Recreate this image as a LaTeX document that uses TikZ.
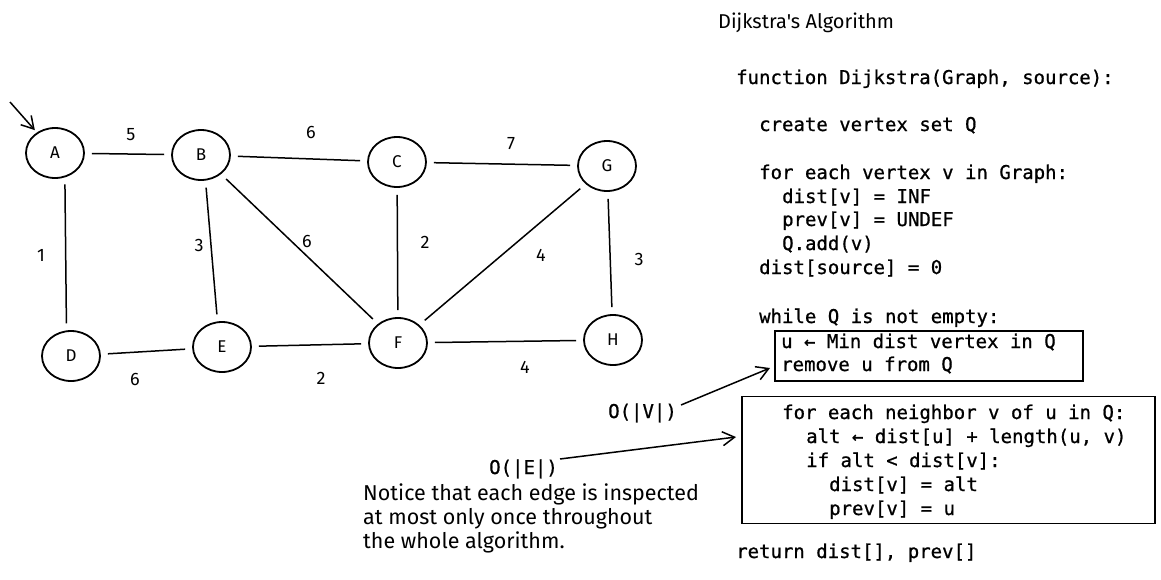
\documentclass[tikz,border=0pt]{standalone}
\usepackage{fontspec}
\setmainfont{Liberation Sans}
\newfontfamily\codefont[FakeBold=0.8]{DejaVu Sans Mono}
\newfontfamily\handfont{Fira Sans}
\usetikzlibrary{arrows.meta,shapes.geometric}
\begin{document}
\begin{tikzpicture}[x=1pt,y=-1pt,
  vert/.style={draw, ellipse, line width=1.8pt, minimum width=58pt, minimum height=50pt, inner sep=0pt, font=\handfont\fontsize{17}{20}\selectfont},
  edge/.style={line width=1.5pt, shorten >=7pt, shorten <=7pt},
  wt/.style={font=\handfont\fontsize{18}{20}\selectfont, inner sep=0pt},
  code/.style={font=\codefont\fontsize{19}{24}\selectfont, anchor=base west, inner sep=0pt},
  hand/.style={font=\handfont\fontsize{21.5}{24}\selectfont, anchor=base west, inner sep=0pt},
  arr/.style={line width=1.5pt, -{Straight Barb[length=12pt,width=14pt]}},
  codebox/.style={draw, line width=1.5pt, inner sep=0pt}
]
\useasboundingbox (0,0) rectangle (1161,579);
% vertices
\node[vert] (A) at (55,153) {A};
\node[vert] (B) at (201,155) {B};
\node[vert] (C) at (397,162) {C};
\node[vert] (G) at (607,166) {G};
\node[vert] (D) at (71,356) {D};
\node[vert] (E) at (222,347) {E};
\node[vert] (F) at (398,343) {F};
\node[vert] (H) at (613,340) {H};
% edges
\draw[edge] (A) -- (B);
\draw[edge] (A.-68) -- (D.100);
\draw[edge] (B) -- (C);
\draw[edge] (B.-80) -- (E.100);
\draw[edge] (B) -- (F);
\draw[edge] (C) -- (F);
\draw[edge] (C) -- (G);
\draw[edge] (G) -- (F);
\draw[edge] (G) -- (H);
\draw[edge] (F) -- (H);
\draw[edge] (D) -- (E);
\draw[edge] (E) -- (F);
% weights
\node[wt] (wAB) at (131,135) {5};
\node[wt] (wBC) at (311,132) {6};
\node[wt] (wCG) at (511,144) {7};
\node[wt] (wAD) at (41,255) {1};
\node[wt] (wBE) at (199,245) {3};
\node[wt] (wBF) at (307,241) {6};
\node[wt] (wCF) at (425,242) {2};
\node[wt] (wGF) at (541,255) {4};
\node[wt] (wGH) at (639,259) {3};
\node[wt] (wDE) at (135,379) {6};
\node[wt] (wEF) at (321,378) {2};
\node[wt] (wFH) at (525,367) {4};
% start arrow
\coordinate (start) at (10,102);
\draw[arr, shorten >=3pt] (start) -- (A);
% title
\node[hand, font=\handfont\fontsize{20}{22}\selectfont] (title) at (718,28) {Dijkstra's Algorithm};
% code
\node[code] (l1) at (736,84) {function Dijkstra(Graph, source):};
\node[code] (l2) at (759,131) {create vertex set Q};
\node[code] (l3) at (759,179) {for each vertex v in Graph:};
\node[code] (l4) at (782,203) {dist[v] = INF};
\node[code] (l5) at (782,226) {prev[v] = UNDEF};
\node[code] (l6) at (782,250) {Q.add(v)};
\node[code] (l7) at (759,274) {dist[source] = 0};
\node[code] (l8) at (759,323) {while Q is not empty:};
\node[codebox, minimum width=308pt, minimum height=50pt] (box1) at (929,356) {};
\node[code] (l9) at (781,348) {u ← Min dist vertex in Q};
\node[code] (l10) at (781,371) {remove u from Q};
\node[codebox, minimum width=413pt, minimum height=127pt] (box2) at (948.5,460) {};
\node[code] (l11) at (782,419) {for each neighbor v of u in Q:};
\node[code] (l12) at (806,443) {alt ← dist[u] + length(u, v)};
\node[code] (l13) at (806,467) {if alt < dist[v]:};
\node[code] (l14) at (829,491) {dist[v] = alt};
\node[code] (l15) at (829,515) {prev[v] = u};
\node[code] (l16) at (736,558) {return dist[], prev[]};
% complexity annotations
\node[code] (ov) at (608,418) {O(|V|)};
\node[code] (oe) at (489,474) {O(|E|)};
\coordinate (vtip) at (770,368);
\coordinate (etip) at (736,437);
\draw[arr] (ov.east) ++(4,-8) coordinate (vstart) (vstart) -- (vtip);
\draw[arr] (oe.east) ++(2,-10) coordinate (estart) (estart) -- (etip);
% note
\node[hand] (n1) at (363,500) {Notice that each edge is inspected};
\node[hand] (n2) at (363,524) {at most only once throughout};
\node[hand] (n3) at (363,548) {the whole algorithm.};
\end{tikzpicture}
\end{document}
